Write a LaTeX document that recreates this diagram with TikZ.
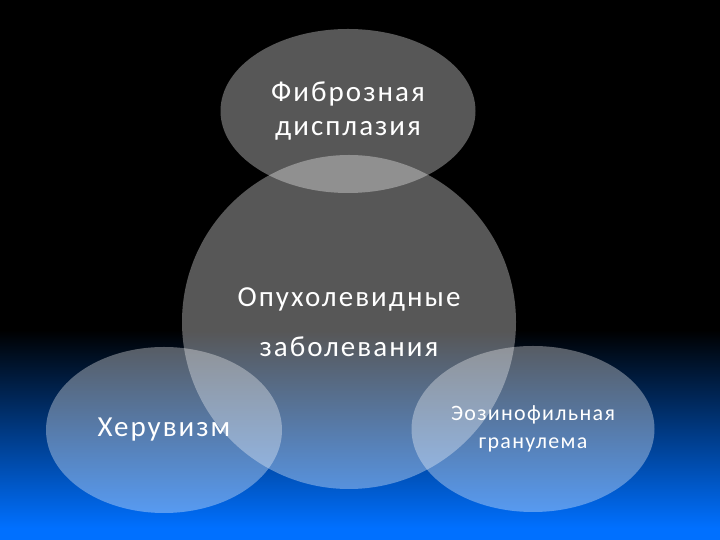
\documentclass[tikz,border=0pt]{standalone}
\usepackage{fontspec}
\setmainfont{Carlito}
\usetikzlibrary{shapes.geometric}
\definecolor{slideblue}{RGB}{0,112,255}
\definecolor{slidenavy}{RGB}{0,45,118}

\begin{document}
\begin{tikzpicture}
    [x=1pt,y=1pt,
     blob/.style={ellipse,fill=white,fill opacity=0.34,text opacity=1,text=white,align=center,inner sep=0pt}]
    % background
    \fill[black] (0,0) rectangle (720,540);
    \shade[top color=black,middle color=slidenavy,bottom color=slideblue] (0,12) rectangle (720,210);
    \fill[slideblue] (0,0) rectangle (720,12);
    \useasboundingbox (0,0) rectangle (720,540);

    \node[blob,minimum width=255,minimum height=164,
          font={\fontsize{29}{34}\selectfont\addfontfeature{LetterSpace=7}}] (fibro) at (348,429)
        {Фиброзная\\дисплазия};
    \node[blob,minimum width=334,minimum height=334,
          font={\fontsize{29}{50}\selectfont\addfontfeature{LetterSpace=7}}] (tumor) at (349,218)
        {Опухолевидные\\заболевания};
    \node[blob,minimum width=236,minimum height=166,
          font={\fontsize{29}{34}\selectfont\addfontfeature{LetterSpace=7}}] (cherub) at (164,110)
        {Херувизм};
    \node[blob,minimum width=243,minimum height=166,
          font={\fontsize{22}{28}\selectfont\addfontfeature{LetterSpace=6}}] (eosin) at (533,111)
        {Эозинофильная\\гранулема};
\end{tikzpicture}
\end{document}
